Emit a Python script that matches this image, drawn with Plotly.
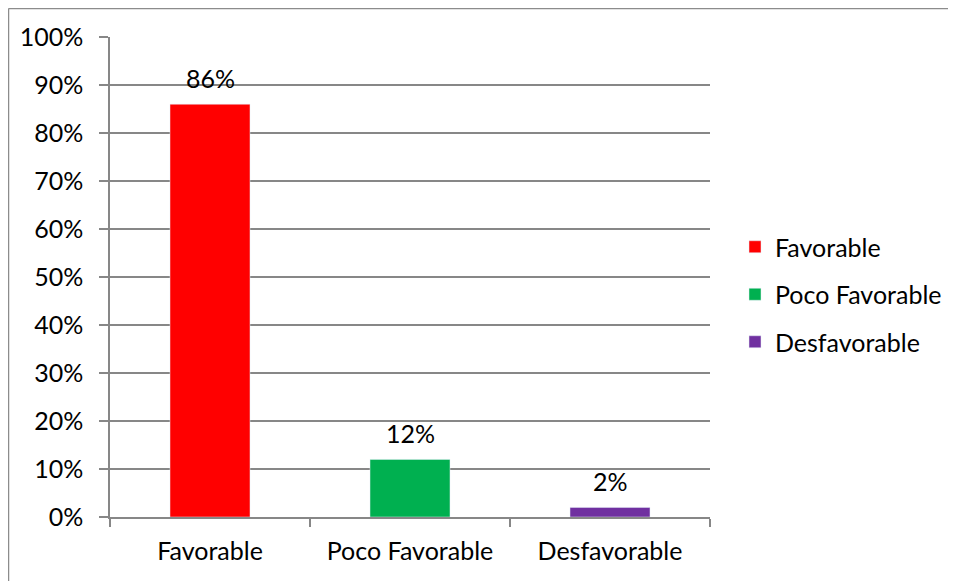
import plotly.graph_objects as go

categories = ["Favorable", "Poco Favorable", "Desfavorable"]
values = [86, 12, 2]
labels = ["86%", "12%", "2%"]
colors = ["#FF0000", "#00B050", "#7030A0"]
y_ticks = list(range(0, 101, 10))
y_tick_labels = [f"{v}%" for v in y_ticks]

FONT = "Lato, 'Open Sans', sans-serif"
GRID = "#878787"
FS = 25

fig = go.Figure()
for cat, val, col in zip(categories, values, colors):
    fig.add_trace(go.Bar(
        x=[cat], y=[val], name=cat, marker_color=col, width=0.4,
        legendgroup=cat, showlegend=True,
    ))

for cat, val, lab in zip(categories, values, labels):
    fig.add_annotation(x=cat, y=val, text=lab, showarrow=False,
                       yanchor="bottom", yshift=9,
                       font=dict(family=FONT, size=FS, color="#000000"))

# page body has an 8px margin; figure sized to fit viewport
OFF = 8
W, H = 956 - OFF, 581 - OFF
L, R, T, B = 110 - OFF, 246, 37 - OFF, 64
pw, ph = W - L - R, H - T - B

def px(xp):
    return (xp - OFF - L) / pw

def py(yp):
    return (H - B - (yp - OFF)) / ph

# outer chart border (left and top edges visible)
fig.add_shape(type="line", xref="paper", yref="paper",
              x0=px(8.5), x1=px(8.5), y0=py(700), y1=py(8.5),
              line=dict(color="#8C8C8C", width=1.5))
fig.add_shape(type="line", xref="paper", yref="paper",
              x0=px(8.5), x1=px(1100), y0=py(8.5), y1=py(8.5),
              line=dict(color="#8C8C8C", width=1.5))

fig.update_layout(
    width=W, height=H,
    margin=dict(l=L, r=R, t=T, b=B, autoexpand=False),
    paper_bgcolor="white", plot_bgcolor="white",
    barmode="overlay",
    font=dict(family=FONT, size=FS, color="#000000"),
    legend=dict(x=px(735), y=py(224), xanchor="left", yanchor="top",
                font=dict(family=FONT, size=FS), tracegroupgap=12,
                bgcolor="rgba(0,0,0,0)", traceorder="grouped"),
    xaxis=dict(categoryorder="array", categoryarray=categories,
               showline=True, linecolor=GRID, linewidth=1.5,
               ticks="outside", tickson="boundaries", ticklen=8,
               tickcolor=GRID, tickwidth=1.5, showgrid=False,
               ticklabelstandoff=11,
               tickfont=dict(family=FONT, size=FS)),
    yaxis=dict(range=[0, 100], tickvals=y_ticks, ticktext=y_tick_labels,
               showline=True, linecolor=GRID, linewidth=1.5,
               ticks="outside", ticklen=9, tickcolor=GRID, tickwidth=1.5,
               showgrid=True, gridcolor=GRID, gridwidth=1.5,
               zeroline=False, ticklabelstandoff=11,
               tickfont=dict(family=FONT, size=FS)),
)

fig.write_html("out.html")
